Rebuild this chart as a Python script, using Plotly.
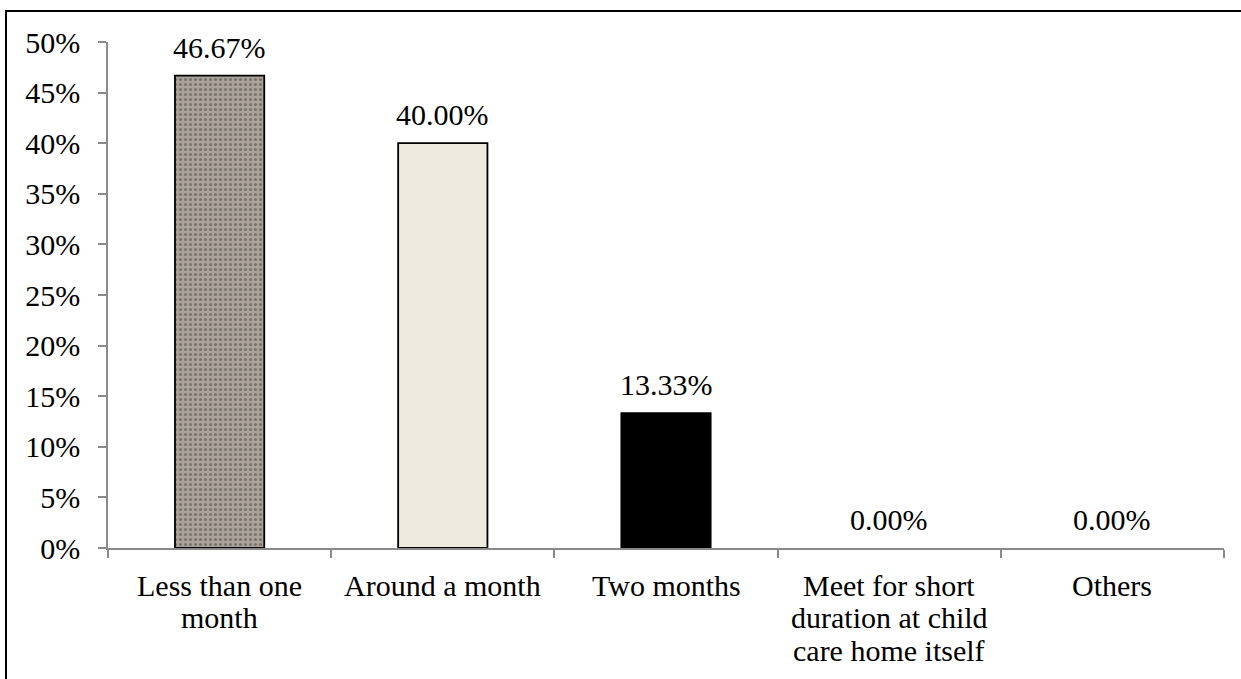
import plotly.graph_objects as go

categories = [
    "Less than one month",
    "Around a month",
    "Two months",
    "Meet for short duration at child care home itself",
    "Others",
]
# how each category name is wrapped under the axis
category_lines = [
    ["Less than one", "month"],
    ["Around a month"],
    ["Two months"],
    ["Meet for short", "duration at child", "care home itself"],
    ["Others"],
]
values = [46.67, 40.00, 13.33, 0.00, 0.00]
y_ticks = [0, 5, 10, 15, 20, 25, 30, 35, 40, 45, 50]

fill_colors = ["#ABA299", "#EDEAE0", "#000000", "#FFFFFF", "#FFFFFF"]
pattern_shapes = [".", "", "", "", ""]
outline_widths = [1.8 if v > 0 else 0 for v in values]

W, H = 1241, 679
L, R, T, B = 108, 17, 42, 131
FONT = "Liberation Serif, Times New Roman, serif"
FS = 30
LINE_STEP = 32.5
AXIS_GREY = "#8A8A8A"

fig = go.Figure(
    go.Bar(
        x=categories,
        y=values,
        width=0.4,
        marker=dict(
            color=fill_colors,
            line=dict(color="#000000", width=outline_widths),
            pattern=dict(
                shape=pattern_shapes,
                fgcolor="#675E55",
                fgopacity=0.5,
                size=5,
                solidity=0.3,
                fillmode="overlay",
            ),
        ),
        hoverinfo="skip",
    )
)

# value labels above each bar
for cat, val in zip(categories, values):
    fig.add_annotation(
        x=cat, y=val,
        text=f"{val:.2f}%",
        showarrow=False,
        yanchor="bottom",
        yshift=10,
        font=dict(family=FONT, size=FS, color="#000000"),
    )

# category names under the axis, one line at a time for tight spacing
for cat, lines in zip(categories, category_lines):
    for i, line in enumerate(lines):
        fig.add_annotation(
            x=cat, y=0, xref="x", yref="paper",
            text=line,
            showarrow=False,
            yanchor="middle",
            yshift=-37 - LINE_STEP * i,
            font=dict(family=FONT, size=FS, color="#000000"),
        )

# outer frame around the whole chart (right and bottom run off the canvas)
pw, ph = W - L - R, H - T - B
fig.add_shape(
    type="rect",
    xref="paper", yref="paper",
    x0=(6 - L) / pw, x1=(W + 60 - L) / pw,
    y0=-(B + 60) / ph, y1=((H - B) - 11) / ph,
    line=dict(color="#000000", width=2),
    fillcolor="rgba(0,0,0,0)",
    layer="below",
)

fig.update_layout(
    width=W,
    height=H,
    margin=dict(l=L, r=R, t=T, b=B, pad=0, autoexpand=False),
    paper_bgcolor="#FFFFFF",
    plot_bgcolor="#FFFFFF",
    showlegend=False,
    font=dict(family=FONT, size=FS, color="#000000"),
)

fig.update_xaxes(
    automargin=False,
    showticklabels=False,
    showline=True,
    linecolor=AXIS_GREY,
    linewidth=1.5,
    ticks="outside",
    tickson="boundaries",
    ticklen=8,
    tickcolor=AXIS_GREY,
    tickwidth=1.5,
    showgrid=False,
    zeroline=False,
)

fig.update_yaxes(
    automargin=False,
    range=[0, 50],
    tickvals=y_ticks,
    ticktext=[f"{v}%" for v in y_ticks],
    showline=True,
    linecolor=AXIS_GREY,
    linewidth=1.5,
    ticks="outside",
    ticklen=8,
    tickcolor=AXIS_GREY,
    tickwidth=1.5,
    tickfont=dict(family=FONT, size=FS, color="#000000"),
    ticklabelstandoff=12,
    showgrid=False,
    zeroline=False,
)

fig.write_html("out.html")
